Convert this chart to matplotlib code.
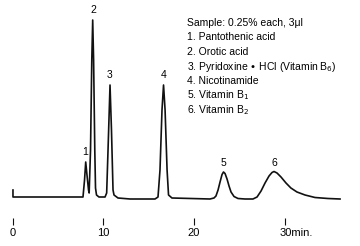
import matplotlib
matplotlib.use("Agg")
import matplotlib.pyplot as plt
import matplotlib.transforms as mtransforms

plt.rcParams["font.family"] = ["Liberation Sans", "DejaVu Sans"]

# traced chromatogram (time in min, detector signal in arbitrary units)
time = [0.03, 0.03, 7.75, 7.92, 8.05, 8.19, 8.36, 8.43, 8.58, 8.72, 8.82, 8.92,
        9.05, 9.13, 9.24, 9.51, 10.18, 10.36, 10.51, 10.73, 10.89, 11.06, 11.17,
        11.61, 12.94, 15.69, 16.02, 16.24, 16.46, 16.63, 16.80, 17.02, 17.18,
        17.56, 21.75, 22.19, 22.41, 22.64, 22.86, 23.08, 23.24, 23.41, 23.63,
        23.85, 24.07, 24.40, 24.84, 25.61, 26.49, 26.94, 27.38, 27.82, 28.26,
        28.59, 28.81, 29.14, 29.58, 30.13, 30.67, 31.34, 32.23, 33.33, 34.76,
        36.09]
signal = [8, 1, 1, 18, 36, 23, 8, 5, 48, 138, 178, 138,
          48, 10, 3, 1, 1, 5, 48, 113, 68, 8, 3,
          0, -1, -1, 1, 28, 88, 113, 88, 28, 3,
          0, -1, 0, 2, 8, 16, 23.5, 26, 24.5, 19,
          12, 6, 1.5, -0.5, -1, -1, 1, 7, 15, 22,
          25.5, 26.5, 25, 21, 15, 10, 6, 3, 0.5, -0.5,
          -1]

peak_names = ["1", "2", "3", "4", "5", "6"]
peak_time = [7.95, 8.85, 10.73, 16.60, 23.20, 28.81]
peak_top = [38, 180, 115, 115, 27, 27]

legend_lines = ["Sample: 0.25% each, 3\u03bcl",
                "1. Pantothenic acid",
                "2. Orotic acid",
                "3. Pyridoxine \u2022 HCl (Vitamin B$_6$)",
                "4. Nicotinamide",
                "5. Vitamin B$_1$",
                "6. Vitamin B$_2$"]

xticks = [0, 10, 20, 30]
xticklabels = ["0", "10", "20", "30min."]

W, H = 360, 246
fig = plt.figure(figsize=(W / 100, H / 100), dpi=100)
ax = fig.add_axes([0, (H - 225) / H, 1, 220 / H])
ax.plot(time, signal, color="#111111", lw=1.2, solid_joinstyle="round")
ax.set_xlim(-1.40, 38.29)
ax.set_ylim(-27, 193)

for n, t, s in zip(peak_names, peak_time, peak_top):
    ax.annotate(n, (t, s), xytext=(0, 2), textcoords="offset points",
                ha="center", va="bottom", fontsize=7.5)

for sp in ax.spines.values():
    sp.set_visible(False)
ax.set_yticks([])
ax.set_xticks(xticks)
ax.set_xticklabels(xticklabels, fontsize=8)
ax.tick_params(axis="x", direction="in", length=5, width=0.8, pad=2, color="#111111")
last = ax.get_xticklabels()[-1]
last.set_horizontalalignment("left")
last.set_transform(last.get_transform() +
                   mtransforms.ScaledTranslation(-5 / 100, 0, fig.dpi_scale_trans))

y0 = 23
for i, line in enumerate(legend_lines):
    fig.text(187 / W, 1 - (y0 + i * 14.5) / H, line, fontsize=7.5,
             ha="left", va="center")

fig.savefig("out.png", dpi=100)
